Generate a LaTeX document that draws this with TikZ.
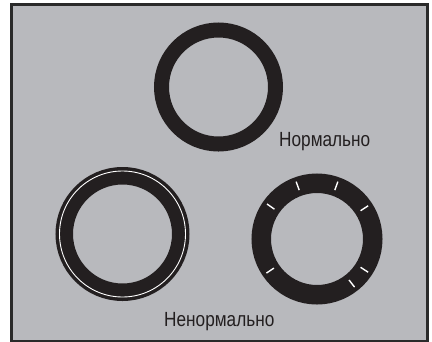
\documentclass[tikz,border=0pt]{standalone}
\usepackage{fontspec}
\usepackage{xcolor}
\usepackage{tikz}
\usetikzlibrary{positioning,calc}

\newfontfamily\labelfont[FakeStretch=0.84]{Liberation Sans}
\definecolor{panelgray}{RGB}{184,185,189}
\definecolor{ringblack}{RGB}{35,31,32}
\definecolor{framegray}{RGB}{42,42,42}

\begin{document}
\begin{tikzpicture}[
    x=1pt, y=-1pt,
    ring/.style={draw=ringblack, line width=#1},
    slit/.style={draw=white, line width=0.9pt},
    tick/.style={draw=white, line width=1.4pt},
    lbl/.style={anchor=base west, inner sep=0pt, text=ringblack, font=\labelfont\fontsize{20.5}{24}\selectfont}
]
    \useasboundingbox (0,0) rectangle (432,341);
    % panel
    \fill [panelgray] (11.5,4.5) rectangle (427.5,341.5);
    \draw [framegray, line width=3pt] (11.5,4.5) rectangle (427.5,341.5);

    % normal ring
    \coordinate (top) at (218.5,87);
    \draw [ring=15pt] (top) circle [radius=57];

    % ring with a crack near the rim
    \coordinate (left) at (122.5,234);
    \draw [ring=17.5pt] (left) circle [radius=58.25];
    \draw [slit] (left) circle [radius=63];

    % ring with radial cracks
    \coordinate (right) at (317,239);
    \draw [ring=19.5pt] (right) circle [radius=55.75];
    \foreach \a in {110,70,33,145,214,-33,-52}
        \draw [tick] ($(right)+(-\a:52)$) -- ($(right)+(-\a:61)$);

    \node [lbl] (ok) at (279,146) {Нормально};
    \node [lbl] (bad) at (164,326) {Ненормально};
\end{tikzpicture}
\end{document}
